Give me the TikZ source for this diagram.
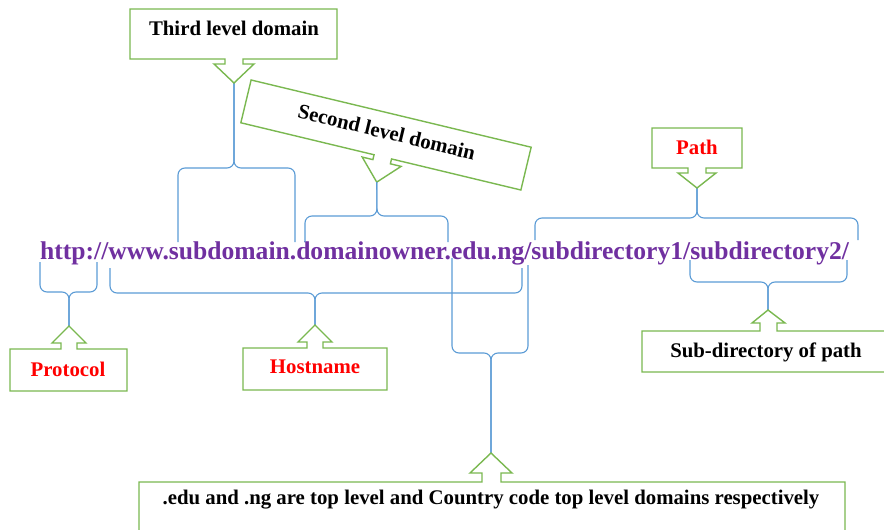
\documentclass[tikz,border=0pt]{standalone}
\usepackage{fontspec}
\setmainfont{Liberation Serif}
\definecolor{cgreen}{RGB}{122,184,80}
\definecolor{cblue}{RGB}{91,155,213}
\definecolor{cpurple}{RGB}{112,48,160}
\tikzset{
  callout/.style={draw=cgreen, line width=1.4pt, fill=white, line join=miter},
  brace/.style={draw=cblue, line width=1.1pt, rounded corners=7pt},
  lbl/.style={font=\fontsize{20.8}{24}\selectfont\bfseries, inner sep=0pt},
  redlbl/.style={lbl, text=red},
}
\begin{document}
\begin{tikzpicture}[x=1pt,y=-1pt]
\path[use as bounding box] (0,0) rectangle (884,530);
\clip (0,0) rectangle (884,530);

% ---------- URL ----------
\node[anchor=base west, inner sep=0pt, text=cpurple,
      font=\fontsize{25.6}{30}\selectfont\bfseries] (url) at (40,259)
  {http://www.subdomain.domainowner.edu.ng/subdirectory1/subdirectory2/};

% ---------- Third level domain ----------
\coordinate (t3) at (234,83);
\draw[brace] (178,242) -- (178,168) -- (234,168) -- (t3);
\draw[brace] (295,242) -- (295,168) -- (234,168) -- (t3);
\draw[callout] (130,9) -- (337,9) -- (337,59) -- (243,59) -- (243,64) -- (254,64)
  -- (t3) -- (214,64) -- (225,64) -- (225,59) -- (130,59) -- cycle;
\node[lbl] (third) at (234,28) {Third level domain};

% ---------- Second level domain ----------
\begin{scope}[shift={(386,135)}, rotate=-13.5]
  \coordinate (t2) at (2,48);
  \draw[callout] (-144,-22) -- (144,-22) -- (144,22) -- (11,22) -- (11,27) -- (22,27)
    -- (t2) -- (-18,27) -- (-7,27) -- (-7,22) -- (-144,22) -- cycle;
  \node[lbl, rotate=-13.5] (second) at (0,-3) {Second level domain};
\end{scope}
\draw[brace] (305,242) -- (305,216) -- (377,216) -- (t2);
\draw[brace] (448,242) -- (448,216) -- (377,216) -- (t2);

% ---------- Path ----------
\coordinate (tp) at (697,188);
\draw[brace] (535,240) -- (535,218) -- (697,218) -- (tp);
\draw[brace] (858,240) -- (858,218) -- (697,218) -- (tp);
\draw[callout] (652,128) -- (742,128) -- (742,168) -- (706,168) -- (706,173) -- (716,173)
  -- (tp) -- (678,173) -- (688,173) -- (688,168) -- (652,168) -- cycle;
\node[redlbl] (path) at (697,147) {Path};

% ---------- Protocol ----------
\coordinate (tpr) at (69,326);
\draw[brace] (40,262) -- (40,292) -- (69,292) -- (tpr);
\draw[brace] (97,262) -- (97,292) -- (69,292) -- (tpr);
\draw[callout] (10,391) -- (10,349) -- (61,349) -- (61,343) -- (52,343) -- (tpr)
  -- (86,343) -- (77,343) -- (77,349) -- (127,349) -- (127,391) -- cycle;
\node[redlbl] (protocol) at (68,369) {Protocol};

% ---------- Hostname ----------
\coordinate (th) at (315,325);
\draw[brace] (110,268) -- (110,293) -- (315,293) -- (th);
\draw[brace] (522,268) -- (522,293) -- (315,293) -- (th);
\draw[callout] (243,390) -- (243,348) -- (307,348) -- (307,342) -- (298,342) -- (th)
  -- (332,342) -- (323,342) -- (323,348) -- (387,348) -- (387,390) -- cycle;
\node[redlbl] (hostname) at (315,367) {Hostname};

% ---------- Sub-directory of path ----------
\coordinate (ts) at (768,310);
\draw[brace] (690,260) -- (690,282) -- (768,282) -- (ts);
\draw[brace] (847,260) -- (847,282) -- (768,282) -- (ts);
\draw[callout] (642,372) -- (642,331) -- (760,331) -- (760,323) -- (752,323) -- (ts)
  -- (785,323) -- (777,323) -- (777,331) -- (892,331) -- (892,372) -- cycle;
\node[lbl] (subdir) at (766,352) {Sub-directory of path};

% ---------- TLD ----------
\coordinate (tt) at (491,453);
\draw[brace] (452,258) -- (452,353) -- (491,353) -- (tt);
\draw[brace] (528,265) -- (528,353) -- (491,353) -- (tt);
\draw[callout] (139,545) -- (139,482) -- (482,482) -- (482,473) -- (470,473) -- (tt)
  -- (512,473) -- (501,473) -- (501,482) -- (845,482) -- (845,545) -- cycle;
\node[lbl] (tld) at (491,500) {.edu and .ng are top level and Country code top level domains respectively};
\end{tikzpicture}
\end{document}
